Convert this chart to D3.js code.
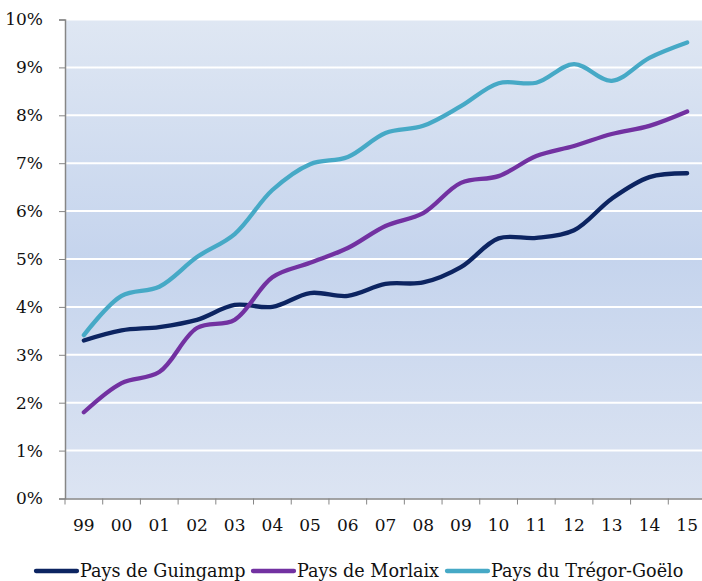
<!DOCTYPE html>
<html>
  <head>
    <meta charset="utf-8" />
    <title>Pays - taux</title>
    <script src="https://d3js.org/d3.v7.min.js" charset="utf-8"></script>
    <style>
      body { margin: 0; background: #fff; }
      svg text { font-family: "DejaVu Serif", Georgia, serif; fill: #111; }
    </style>
  </head>
  <body>
    <svg id="canvas" width="702" height="581"></svg>
    <script>
      // data
      var years = ["99", "00", "01", "02", "03", "04", "05", "06", "07", "08", "09", "10", "11", "12", "13", "14", "15"];
      var guingamp = [3.3, 3.51, 3.58, 3.73, 4.04, 4.0, 4.29, 4.23, 4.48, 4.51, 4.83, 5.43, 5.44, 5.6, 6.26, 6.71, 6.79];
      var morlaix = [1.8, 2.41, 2.64, 3.56, 3.73, 4.62, 4.92, 5.23, 5.69, 5.96, 6.59, 6.73, 7.15, 7.36, 7.61, 7.78, 8.08];
      var tregor = [3.41, 4.23, 4.42, 5.04, 5.52, 6.44, 6.98, 7.13, 7.63, 7.78, 8.19, 8.67, 8.68, 9.07, 8.72, 9.2, 9.52];
      var yTicks = [0, 1, 2, 3, 4, 5, 6, 7, 8, 9, 10];

      var series = [
        { name: "Pays de Guingamp", values: guingamp, color: "#0c2461" },
        { name: "Pays de Morlaix", values: morlaix, color: "#7231a1" },
        { name: "Pays du Trégor-Goëlo", values: tregor, color: "#46a9c6" }
      ];

      var canvas = d3.select("#canvas");
      var plotLeft = 65, plotRight = 706, plotTop = 19.5, plotBottom = 498.5;

      var x = d3.scaleBand().domain(years).range([plotLeft, plotRight]);
      var y = d3.scaleLinear().domain([0, 10]).range([plotBottom, plotTop]);

      // background gradient like the excel plot area
      var defs = canvas.append("defs");
      var grad = defs.append("linearGradient")
        .attr("id", "bg")
        .attr("x1", 0).attr("y1", 0).attr("x2", 0).attr("y2", 1);
      grad.append("stop").attr("offset", "0%").attr("stop-color", "#dfe7f3");
      grad.append("stop").attr("offset", "50%").attr("stop-color", "#c5d4ed");
      grad.append("stop").attr("offset", "100%").attr("stop-color", "#dce4f2");

      canvas.append("rect")
        .attr("x", plotLeft)
        .attr("y", plotTop)
        .attr("width", plotRight - plotLeft)
        .attr("height", plotBottom - plotTop)
        .attr("fill", "url(#bg)");

      // gridlines
      canvas.append("g")
        .selectAll("line")
        .data(yTicks.filter(function (d) { return d > 0; }))
        .enter()
        .append("line")
        .attr("x1", plotLeft)
        .attr("x2", plotRight)
        .attr("y1", function (d) { return y(d); })
        .attr("y2", function (d) { return y(d); })
        .attr("stroke", "#ffffff")
        .attr("stroke-width", 2);

      // y axis
      var yAxis = canvas.append("g")
        .attr("transform", "translate(" + plotLeft + ",0)")
        .call(d3.axisLeft(y)
          .tickValues(yTicks)
          .tickSize(6)
          .tickPadding(16)
          .tickFormat(function (d) { return d + "%"; }));
      yAxis.selectAll("text").style("font-size", "17px");

      // x axis, ticks between categories
      var xAxis = canvas.append("g")
        .attr("transform", "translate(0," + plotBottom + ")")
        .call(d3.axisBottom(x).tickSize(0).tickPadding(20));
      xAxis.selectAll("text").style("font-size", "17px");
      xAxis.selectAll(".bound")
        .data(years.concat(["end"]))
        .enter()
        .append("line")
        .attr("class", "bound")
        .attr("x1", function (d, i) { return plotLeft + i * x.bandwidth(); })
        .attr("x2", function (d, i) { return plotLeft + i * x.bandwidth(); })
        .attr("y1", 0)
        .attr("y2", 6)
        .attr("stroke", "#868686");

      canvas.selectAll(".domain").attr("stroke", "#868686").attr("stroke-width", 1.5);
      canvas.selectAll(".tick line").attr("stroke", "#868686");

      // lines
      var line = d3.line()
        .x(function (d, i) { return x(years[i]) + x.bandwidth() / 2; })
        .y(function (d) { return y(d); })
        .curve(d3.curveCatmullRom.alpha(0.5));

      canvas.append("g")
        .selectAll("path")
        .data(series)
        .enter()
        .append("path")
        .attr("d", function (s) { return line(s.values); })
        .attr("fill", "none")
        .attr("stroke", function (s) { return s.color; })
        .attr("stroke-width", 4.3)
        .attr("stroke-linecap", "round");

      // legend
      var legendX = [36, 253, 447];
      var legend = canvas.append("g")
        .selectAll("g")
        .data(series)
        .enter()
        .append("g")
        .attr("transform", function (s, i) { return "translate(" + legendX[i] + ",571)"; });
      legend.append("line")
        .attr("x1", 0)
        .attr("x2", 41)
        .attr("stroke", function (s) { return s.color; })
        .attr("stroke-width", 4.3)
        .attr("stroke-linecap", "round");
      legend.append("text")
        .attr("x", 44)
        .attr("y", 6)
        .style("font-size", "17.6px")
        .text(function (s) { return s.name; });
    </script>
  </body>
</html>
